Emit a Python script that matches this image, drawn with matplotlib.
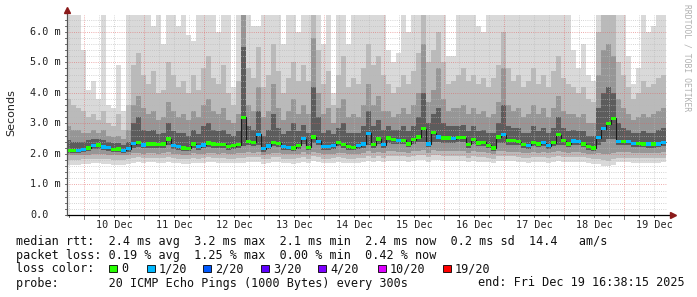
import numpy as np
import matplotlib
matplotlib.use("Agg")
import matplotlib.pyplot as plt
from matplotlib.patches import Rectangle
from matplotlib.transforms import blended_transform_factory

# --- data (2 h consolidation steps, values in ms) ---
t_end = 9 * 24 + 16.64          # hours after 10 Dec 00:00 -> Fri Dec 19 16:38
n_steps = 120
step_h = 2.0

median = [2.12, 2.12, 2.12, 2.15, 2.19, 2.27, 2.29, 2.23, 2.21, 2.15,
          2.16, 2.12, 2.17, 2.34, 2.37, 2.29, 2.33, 2.33, 2.30, 2.32,
          2.49, 2.28, 2.24, 2.19, 2.18, 2.32, 2.24, 2.29, 2.36, 2.33,
          2.30, 2.31, 2.25, 2.27, 2.30, 3.20, 2.41, 2.38, 2.64, 2.17,
          2.26, 2.37, 2.35, 2.25, 2.22, 2.20, 2.28, 2.50, 2.22, 2.55,
          2.41, 2.25, 2.25, 2.28, 2.37, 2.31, 2.24, 2.22, 2.27, 2.32,
          2.67, 2.30, 2.49, 2.30, 2.52, 2.47, 2.44, 2.44, 2.33, 2.47,
          2.56, 2.83, 2.33, 2.70, 2.56, 2.52, 2.52, 2.50, 2.53, 2.53,
          2.31, 2.47, 2.36, 2.38, 2.28, 2.20, 2.55, 2.63, 2.43, 2.43,
          2.40, 2.30, 2.28, 2.38, 2.33, 2.37, 2.27, 2.37, 2.63, 2.43,
          2.33, 2.42, 2.40, 2.33, 2.24, 2.20, 2.53, 2.83, 2.99, 3.17,
          2.40, 2.40, 2.40, 2.35, 2.35, 2.33, 2.32, 2.32, 2.33, 2.38]

# lost pings out of 20 per step
loss = [0, 0, 1, 1, 0, 1, 0, 1, 1, 0,
        0, 1, 1, 1, 0, 1, 0, 0, 0, 0,
        0, 1, 1, 0, 0, 0, 1, 1, 0, 0,
        0, 0, 0, 0, 0, 0, 0, 0, 1, 1,
        1, 0, 0, 1, 1, 0, 0, 1, 0, 0,
        1, 1, 1, 1, 0, 0, 0, 0, 1, 1,
        1, 0, 0, 1, 0, 0, 1, 0, 0, 0,
        0, 0, 1, 0, 1, 0, 0, 1, 0, 0,
        0, 0, 0, 0, 0, 0, 0, 1, 0, 0,
        0, 0, 1, 0, 0, 1, 1, 0, 0, 0,
        0, 1, 1, 0, 0, 0, 1, 1, 0, 0,
        1, 0, 1, 1, 0, 0, 1, 0, 1, 1]

smoke_max = [6.6, 6.6, 6.6, 5.4, 4.1, 4.4, 3.8, 6.6, 3.6, 3.5,
             4.9, 3.4, 6.6, 6.6, 6.6, 6.6, 6.6, 6.2, 6.6, 5.6,
             6.6, 6.6, 6.2, 6.6, 5.9, 5.7, 6.6, 6.6, 6.6, 6.6,
             6.0, 6.6, 6.6, 4.2, 6.6, 6.6, 6.6, 6.2, 6.2, 6.6,
             6.6, 6.6, 6.6, 5.6, 6.6, 6.6, 6.0, 6.6, 6.6, 6.6,
             6.6, 5.6, 6.6, 4.0, 6.6, 6.6, 5.6, 6.6, 6.6, 6.6,
             6.6, 6.6, 6.6, 6.6, 5.4, 5.0, 5.3, 6.6, 6.0, 6.6,
             6.6, 6.6, 6.6, 6.6, 6.6, 6.6, 5.2, 5.2, 6.6, 6.6,
             6.6, 6.6, 6.2, 6.0, 6.6, 6.6, 6.6, 6.6, 6.6, 6.6,
             6.6, 6.6, 6.6, 6.6, 6.6, 6.6, 6.6, 6.6, 6.6, 6.6,
             6.6, 5.4, 4.8, 5.6, 4.6, 4.4, 6.6, 6.6, 6.6, 6.6,
             6.6, 6.6, 5.2, 4.3, 4.8, 6.6, 6.0, 6.2, 6.6, 6.6]

smoke_p90 = [3.8, 3.6, 3.5, 3.4, 3.2, 3.3, 3.1, 3.4, 3.0, 2.9,
             3.3, 2.8, 3.6, 4.9, 5.3, 4.6, 4.3, 4.7, 4.0, 4.1,
             5.0, 4.6, 4.2, 4.4, 4.0, 4.6, 4.1, 4.8, 5.2, 4.5,
             4.3, 4.9, 4.0, 3.6, 4.4, 6.6, 4.8, 4.5, 5.5, 4.2,
             4.6, 5.6, 4.7, 4.0, 4.5, 5.0, 4.4, 4.9, 4.4, 6.6,
             5.4, 4.3, 4.7, 3.6, 4.6, 5.2, 4.2, 4.5, 4.3, 4.8,
             5.6, 4.9, 5.2, 4.6, 4.3, 4.0, 4.2, 4.6, 4.3, 4.7,
             5.3, 6.6, 5.0, 5.4, 6.0, 5.0, 4.3, 4.4, 4.6, 4.8,
             4.4, 4.6, 4.3, 4.5, 4.2, 4.5, 4.9, 6.0, 4.8, 4.4,
             4.6, 4.2, 4.4, 4.8, 4.3, 4.6, 4.2, 4.7, 5.2, 4.5,
             4.3, 4.2, 4.0, 4.2, 3.8, 3.7, 6.0, 6.6, 6.6, 6.6,
             5.0, 4.6, 4.2, 3.8, 4.0, 4.4, 4.2, 4.3, 4.5, 4.6]

smoke_p75 = [2.9, 2.8, 2.8, 2.7, 2.7, 2.8, 2.7, 2.8, 2.6, 2.55,
             2.6, 2.5, 2.8, 3.6, 3.9, 3.5, 3.3, 3.4, 3.1, 3.2,
             3.7, 3.4, 3.2, 3.3, 3.1, 3.4, 3.2, 3.6, 3.8, 3.4,
             3.3, 3.5, 3.1, 3.0, 3.3, 6.6, 3.6, 3.4, 4.2, 3.2,
             3.4, 4.3, 3.5, 3.1, 3.4, 3.8, 3.3, 3.6, 3.3, 5.8,
             4.0, 3.3, 3.5, 3.0, 3.5, 3.8, 3.2, 3.3, 3.2, 3.6,
             4.3, 3.6, 3.9, 3.4, 3.4, 3.2, 3.3, 3.5, 3.3, 3.6,
             4.0, 5.6, 3.7, 4.1, 4.8, 3.8, 3.4, 3.5, 3.5, 3.6,
             3.3, 3.5, 3.3, 3.4, 3.2, 3.3, 3.7, 4.8, 3.6, 3.4,
             3.5, 3.2, 3.3, 3.6, 3.3, 3.5, 3.2, 3.5, 3.9, 3.4,
             3.3, 3.3, 3.2, 3.3, 3.0, 3.0, 4.6, 5.4, 5.6, 5.2,
             3.8, 3.5, 3.3, 3.1, 3.2, 3.3, 3.2, 3.3, 3.4, 3.5]

smoke_p60 = [2.45, 2.4, 2.4, 2.4, 2.45, 2.5, 2.5, 2.45, 2.4, 2.35,
             2.35, 2.3, 2.4, 3.0, 3.2, 2.8, 2.75, 2.8, 2.65, 2.7,
             3.0, 2.75, 2.7, 2.7, 2.6, 2.8, 2.65, 2.9, 3.0, 2.8,
             2.75, 2.8, 2.65, 2.6, 2.75, 5.5, 2.9, 2.8, 3.4, 2.6,
             2.8, 3.3, 2.85, 2.65, 2.75, 3.0, 2.75, 2.95, 2.7, 4.2,
             3.2, 2.7, 2.8, 2.65, 2.85, 3.0, 2.7, 2.7, 2.7, 2.9,
             3.4, 2.9, 3.1, 2.8, 2.9, 2.8, 2.8, 2.9, 2.75, 2.9,
             3.2, 4.0, 3.0, 3.3, 3.5, 3.0, 2.9, 2.9, 2.9, 2.95,
             2.75, 2.9, 2.75, 2.8, 2.7, 2.7, 3.0, 3.6, 2.9, 2.85,
             2.85, 2.7, 2.7, 2.9, 2.75, 2.85, 2.7, 2.85, 3.2, 2.85,
             2.75, 2.8, 2.75, 2.75, 2.6, 2.6, 3.5, 4.0, 4.2, 4.0,
             3.0, 2.85, 2.8, 2.7, 2.7, 2.75, 2.7, 2.7, 2.8, 2.85]

smoke_p40 = [2.02, 2.02, 2.02, 2.05, 2.08, 2.15, 2.17, 2.12, 2.10, 2.05,
             2.06, 2.02, 2.06, 2.20, 2.24, 2.18, 2.21, 2.21, 2.19, 2.21,
             2.30, 2.17, 2.13, 2.09, 2.08, 2.20, 2.13, 2.18, 2.24, 2.21,
             2.19, 2.20, 2.14, 2.16, 2.19, 2.25, 2.28, 2.26, 2.30, 2.07,
             2.15, 2.25, 2.23, 2.14, 2.12, 2.10, 2.17, 2.32, 2.12, 2.35,
             2.28, 2.14, 2.14, 2.17, 2.25, 2.20, 2.14, 2.12, 2.16, 2.21,
             2.30, 2.20, 2.32, 2.20, 2.35, 2.33, 2.31, 2.31, 2.22, 2.33,
             2.38, 2.40, 2.22, 2.40, 2.38, 2.37, 2.37, 2.36, 2.38, 2.38,
             2.20, 2.33, 2.25, 2.27, 2.18, 2.10, 2.35, 2.35, 2.30, 2.30,
             2.28, 2.19, 2.17, 2.26, 2.22, 2.25, 2.17, 2.25, 2.30, 2.30,
             2.22, 2.29, 2.28, 2.22, 2.14, 2.10, 2.30, 2.40, 2.50, 2.50,
             2.28, 2.28, 2.28, 2.24, 2.24, 2.22, 2.21, 2.21, 2.22, 2.26]

smoke_p25 = [1.95, 1.95, 1.96, 1.97, 1.98, 2.00, 2.00, 1.99, 1.98, 1.96,
             1.96, 1.95, 1.97, 2.02, 2.04, 2.01, 2.03, 2.03, 2.01, 2.02,
             2.06, 2.01, 2.00, 1.98, 1.98, 2.02, 2.00, 2.01, 2.04, 2.03,
             2.01, 2.02, 2.00, 2.00, 2.02, 2.02, 2.05, 2.04, 2.06, 1.98,
             2.00, 2.04, 2.04, 2.00, 2.00, 1.99, 2.01, 2.06, 2.00, 2.07,
             2.04, 2.00, 2.00, 2.01, 2.04, 2.02, 2.00, 2.00, 2.01, 2.03,
             2.08, 2.03, 2.07, 2.03, 2.09, 2.08, 2.07, 2.07, 2.04, 2.08,
             2.10, 2.12, 2.04, 2.12, 2.10, 2.09, 2.09, 2.08, 2.09, 2.09,
             2.03, 2.08, 2.05, 2.06, 2.03, 2.00, 2.09, 2.08, 2.07, 2.07,
             2.06, 2.03, 2.02, 2.06, 2.04, 2.05, 2.02, 2.05, 2.08, 2.06,
             2.04, 2.06, 2.05, 2.04, 2.01, 1.99, 2.02, 2.00, 2.00, 2.02,
             2.05, 2.05, 2.05, 2.04, 2.04, 2.03, 2.03, 2.03, 2.04, 2.05]

smoke_p10 = [1.80, 1.80, 1.81, 1.82, 1.83, 1.85, 1.85, 1.84, 1.83, 1.81,
             1.81, 1.80, 1.82, 1.87, 1.89, 1.86, 1.88, 1.88, 1.86, 1.87,
             1.91, 1.86, 1.85, 1.83, 1.83, 1.87, 1.85, 1.86, 1.89, 1.88,
             1.86, 1.87, 1.85, 1.85, 1.87, 1.86, 1.90, 1.89, 1.90, 1.83,
             1.85, 1.89, 1.89, 1.85, 1.85, 1.84, 1.86, 1.91, 1.85, 1.92,
             1.89, 1.85, 1.85, 1.86, 1.89, 1.87, 1.85, 1.85, 1.86, 1.88,
             1.92, 1.88, 1.92, 1.88, 1.94, 1.93, 1.92, 1.92, 1.89, 1.93,
             1.95, 1.96, 1.89, 1.96, 1.95, 1.94, 1.94, 1.93, 1.94, 1.94,
             1.88, 1.93, 1.90, 1.91, 1.88, 1.85, 1.94, 1.92, 1.92, 1.92,
             1.91, 1.88, 1.87, 1.91, 1.89, 1.90, 1.87, 1.90, 1.93, 1.91,
             1.89, 1.91, 1.90, 1.89, 1.86, 1.84, 1.84, 1.80, 1.78, 1.82,
             1.88, 1.88, 1.88, 1.87, 1.87, 1.86, 1.86, 1.86, 1.87, 1.88]

smoke_min = [1.64, 1.64, 1.65, 1.66, 1.67, 1.69, 1.69, 1.68, 1.67, 1.65,
             1.65, 1.64, 1.66, 1.71, 1.73, 1.70, 1.72, 1.72, 1.70, 1.71,
             1.75, 1.70, 1.69, 1.67, 1.67, 1.71, 1.69, 1.70, 1.73, 1.72,
             1.70, 1.71, 1.69, 1.69, 1.71, 1.70, 1.74, 1.73, 1.74, 1.67,
             1.69, 1.73, 1.73, 1.69, 1.69, 1.68, 1.70, 1.75, 1.69, 1.76,
             1.73, 1.69, 1.69, 1.70, 1.73, 1.71, 1.69, 1.69, 1.70, 1.72,
             1.76, 1.72, 1.76, 1.72, 1.78, 1.77, 1.76, 1.76, 1.73, 1.77,
             1.79, 1.80, 1.73, 1.80, 1.79, 1.78, 1.78, 1.77, 1.78, 1.78,
             1.72, 1.77, 1.74, 1.75, 1.72, 1.69, 1.78, 1.76, 1.76, 1.76,
             1.75, 1.72, 1.71, 1.75, 1.73, 1.74, 1.71, 1.74, 1.77, 1.75,
             1.73, 1.75, 1.74, 1.73, 1.70, 1.68, 1.66, 1.62, 1.60, 1.64,
             1.72, 1.72, 1.72, 1.71, 1.71, 1.70, 1.70, 1.70, 1.71, 1.72]

day_labels = ["10 Dec", "11 Dec", "12 Dec", "13 Dec", "14 Dec",
              "15 Dec", "16 Dec", "17 Dec", "18 Dec", "19 Dec"]
loss_steps = ["0", "1/20", "2/20", "3/20", "4/20", "10/20", "19/20"]
loss_colors = ["#26ff00", "#00b8ff", "#0059ff", "#5e00ff", "#7e00ff", "#dd00ff", "#ff0000"]
loss_color_of = {0: "#26ff00", 1: "#00b8ff", 2: "#0059ff", 3: "#5e00ff",
                 4: "#7e00ff", 10: "#dd00ff", 19: "#ff0000"}

W, H = 697, 297
MONO = "DejaVu Sans Mono"


def fx(x):
    return x / W


def fy(y):
    return 1 - y / H


fig = plt.figure(figsize=(W / 100, H / 100), dpi=100)
ax = fig.add_axes([fx(67), fy(215), 600 / W, 200 / H])
ax.set_xlim((67 - 84) / 2.5, (667 - 84) / 2.5)
ax.set_ylim(0, 6.55)
ax.axis("off")

edges = t_end - n_steps * step_h + step_h * np.arange(n_steps + 1)

# smoke: outer layers light, inner layers dark
layers = [(smoke_min, smoke_max, "#d9d9d9"),
          (smoke_p10, smoke_p90, "#bababa"),
          (smoke_p25, smoke_p75, "#969696"),
          (smoke_p40, smoke_p60, "#5c5c5c")]
for lo, hi, col in layers:
    ax.stairs(hi, edges, baseline=lo, fill=True, color=col, lw=0, zorder=1)

# grid
dots = (0, (1, 1.6))
for h in range(-6, 234, 6):
    if h % 24:
        ax.axvline(h, color="#b8b8b8", lw=0.6, ls=dots, alpha=0.8, zorder=2)
for v in np.arange(0.2, 6.5, 0.2):
    if abs(v - round(v)) > 0.01:
        ax.axhline(v, color="#b8b8b8", lw=0.6, ls=dots, alpha=0.8, zorder=2)
for h in range(0, 234, 24):
    ax.axvline(h, color="#e06060", lw=0.6, ls=dots, alpha=0.7, zorder=2)
for v in range(1, 7):
    ax.axhline(v, color="#e06060", lw=0.6, ls=dots, alpha=0.7, zorder=2)

# median line + loss coloured blocks
ax.stairs(median, edges, baseline=None, color="#1a1a1a", lw=0.8, zorder=3)
med = np.array(median)
ax.bar(edges[:-1], 0.11, width=step_h, bottom=med - 0.055, align="edge",
       color=[loss_color_of[k] for k in loss], lw=0, zorder=4)

# axes with arrows
ax.plot([0, 1.009], [0, 0], transform=ax.transAxes, color="black", lw=0.9,
        clip_on=False, zorder=5)
ax.plot([0, 0], [0, 1.02], transform=ax.transAxes, color="#555555", lw=0.9,
        clip_on=False, zorder=5)
ax.plot([1.0095], [0], marker=">", ms=4, color="#8b1a1a", transform=ax.transAxes,
        clip_on=False, zorder=6)
ax.plot([0], [1.025], marker="^", ms=4, color="#8b1a1a", transform=ax.transAxes,
        clip_on=False, zorder=6)

# small ticks
tx = blended_transform_factory(ax.transData, ax.transAxes)
for h in range(-6, 234, 6):
    ax.plot([h, h], [0, -0.012 if h % 24 else -0.018], transform=tx,
            color="#555555", lw=0.6, clip_on=False)
ty = blended_transform_factory(ax.transAxes, ax.transData)
for v in np.arange(0, 6.5, 0.2):
    ax.plot([0, -0.004], [v, v], transform=ty, color="#555555", lw=0.6, clip_on=False)

# tick labels
for v in range(0, 7):
    lab = "0.0" if v == 0 else f"{v}.0 m"
    ax.text((30 - 67) / 600, v, lab, transform=ty, ha="left", va="center",
            family=MONO, fontsize=7.3, color="#222222")
for k, lab in enumerate(day_labels):
    ax.text(12 + 24 * k, -0.05, lab, transform=tx, ha="center", va="center",
            family=MONO, fontsize=7.3, color="#222222")

fig.text(fx(11), fy(113), "Seconds", rotation=90, ha="center", va="center",
         fontsize=8, color="#222222")
fig.text(fx(687), fy(4), "RRDTOOL / TOBI OETIKER", rotation=270, ha="center",
         va="top", family=MONO, fontsize=5.8, color="#b0b0b0")

# legend
leg = dict(family=MONO, fontsize=8.5, color="#111111", va="center", ha="left")
fig.text(fx(16), fy(241), "median rtt:  2.4 ms avg  3.2 ms max  2.1 ms min  "
         "2.4 ms now  0.2 ms sd  14.4   am/s", **leg)
fig.text(fx(16), fy(255), "packet loss: 0.19 % avg  1.25 % max  0.00 % min  "
         "0.42 % now", **leg)
fig.text(fx(16), fy(268.5), "loss color:", **leg)
box_x = [109, 147, 203, 261, 318, 378, 443]
for bx, lab, col in zip(box_x, loss_steps, loss_colors):
    fig.patches.append(Rectangle((fx(bx), fy(272)), 7.5 / W, 7.5 / H,
                                 transform=fig.transFigure, facecolor=col,
                                 edgecolor="black", lw=0.6))
    fig.text(fx(bx + 12), fy(268.5), lab, **leg)
fig.text(fx(16), fy(283), "probe:       20 ICMP Echo Pings (1000 Bytes) every 300s", **leg)
fig.text(fx(478), fy(283), "end: Fri Dec 19 16:38:15 2025", **leg)

fig.savefig("out.png", dpi=100, facecolor="white")
